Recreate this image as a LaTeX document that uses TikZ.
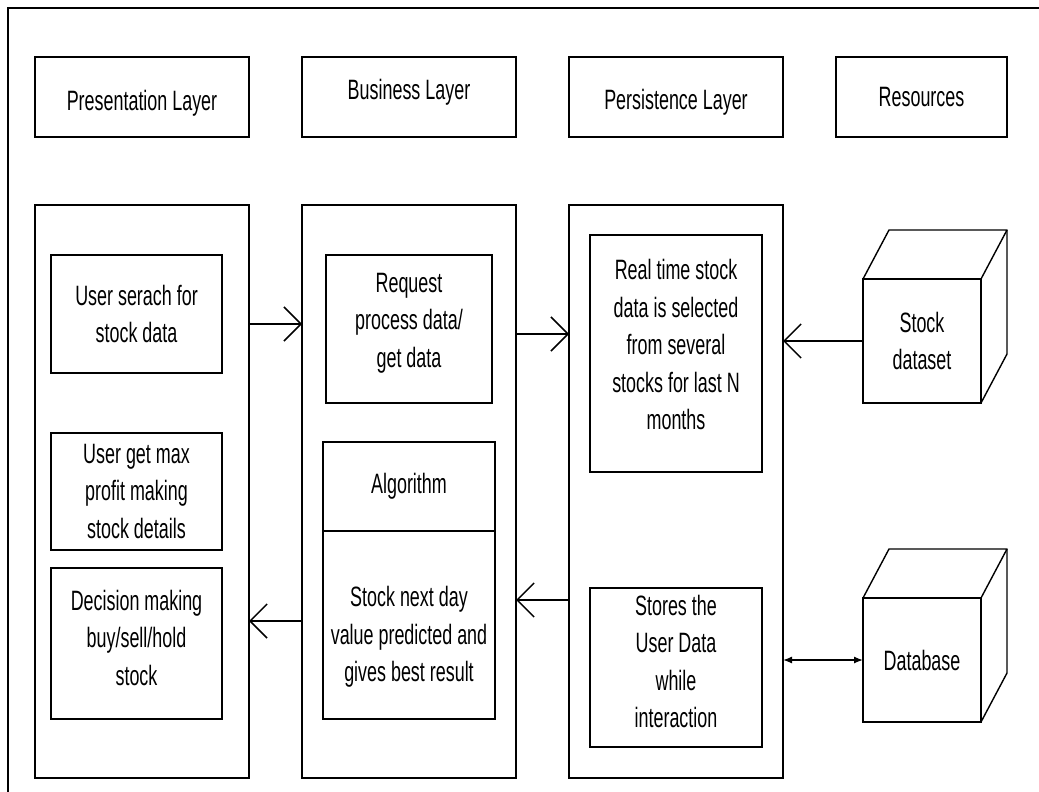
\documentclass[tikz,border=0pt]{standalone}
\usepackage{fontspec}
\setmainfont{Liberation Sans}[FakeStretch=0.64]
\usetikzlibrary{arrows.meta}
\begin{document}
\begin{tikzpicture}[x=1pt,y=-1pt,
  txt/.style={font=\fontsize{28}{37.5}\selectfont,align=center,inner sep=0pt},
  every node/.style={font=\fontsize{28}{37.5}\selectfont},
  rect/.style 2 args={draw,line width=1.4pt,minimum width=#1pt,minimum height=#2pt,inner sep=0pt,outer sep=0pt,align=center},
  openarrow/.style={line width=1.5pt,-{Straight Barb[length=17pt,width=34pt]}},
  dblarrow/.style={line width=1.3pt,{Latex[length=9pt,width=7pt]}-{Latex[length=9pt,width=7pt]}},
  frame/.style={line width=1.6pt},
  cubeedge/.style={line width=1.4pt,line join=round}]
\useasboundingbox (0,0) rectangle (1039,792);
% outer frame
\coordinate (f1) at (8,800);
\coordinate (f2) at (8,8);
\coordinate (f3) at (1050,8);
\draw[frame] (f1) -- (f2) -- (f3);
% headers
\node[rect={214}{80},label={[txt,yshift=-6pt]center:{Presentation Layer}}] (hp) at (142,97) {};
\node[rect={214}{80},label={[txt,yshift=5pt]center:{Business Layer}}] (hb) at (409,97) {};
\node[rect={214}{80},label={[txt,yshift=-5pt]center:{Persistence Layer}}] (hs) at (676,97) {};
\node[rect={171}{80}] (hr) at (921.5,97) {Resources};
% panels
\node[rect={214}{573}] (pp) at (142,491.5) {};
\node[rect={214}{573}] (pb) at (409,491.5) {};
\node[rect={214}{573}] (ps) at (676,491.5) {};
% presentation boxes
\node[rect={171}{118}] (u1) at (136.5,314) {User serach for\\stock data};
\node[rect={171}{117}] (u2) at (136.5,491.5) {User get max\\profit making\\stock details};
\node[rect={171}{151},label={[txt,yshift=6pt]center:{Decision making\\buy/sell/hold\\stock}}] (u3) at (136.5,643.5) {};
% business boxes
\node[rect={166}{148},label={[txt,yshift=6pt]center:{Request\\process data/\\get data}}] (req) at (409,329) {};
\node[rect={172}{89}] (alg) at (409,486.5) {Algorithm};
\node[rect={172}{188},label={[txt,yshift=-12pt]center:{Stock next day\\value predicted and\\gives best result}}] (pred) at (409,625) {};
% persistence boxes
\node[rect={172}{237},label={[txt,yshift=9pt]center:{Real time stock\\data is selected\\from several\\stocks for last N\\months}}] (rt) at (676,353.5) {};
\node[rect={172}{159},label={[txt,yshift=6pt]center:{Stores the\\User Data\\while\\interaction}}] (st) at (676,667.5) {};
% cubes
\node[rect={118}{124}] (c1) at (922,341) {Stock\\dataset};
\draw[cubeedge] (c1.north west) -- ++(26,-49) -- ++(118,0) -- (c1.north east);
\draw[cubeedge] (c1.north east) ++(26,-49) -- ++(0,124) -- (c1.south east);
\node[rect={118}{124}] (c2) at (922,660) {Database};
\draw[cubeedge] (c2.north west) -- ++(26,-49) -- ++(118,0) -- (c2.north east);
\draw[cubeedge] (c2.north east) ++(26,-49) -- ++(0,124) -- (c2.south east);
% arrows
\coordinate (y1) at (0,324);
\coordinate (y2) at (0,334);
\coordinate (y4) at (0,600);
\coordinate (y5) at (0,621);
\draw[openarrow] (pp.east |- y1) -- (pb.west |- y1);
\draw[openarrow] (pb.east |- y2) -- (ps.west |- y2);
\draw[openarrow] (c1.west) -- (ps.east |- c1.west);
\draw[openarrow] (ps.west |- y4) -- (pb.east |- y4);
\draw[openarrow] (pb.west |- y5) -- (pp.east |- y5);
\draw[dblarrow] (ps.east |- c2.west) -- (c2.west);
\end{tikzpicture}
\end{document}
